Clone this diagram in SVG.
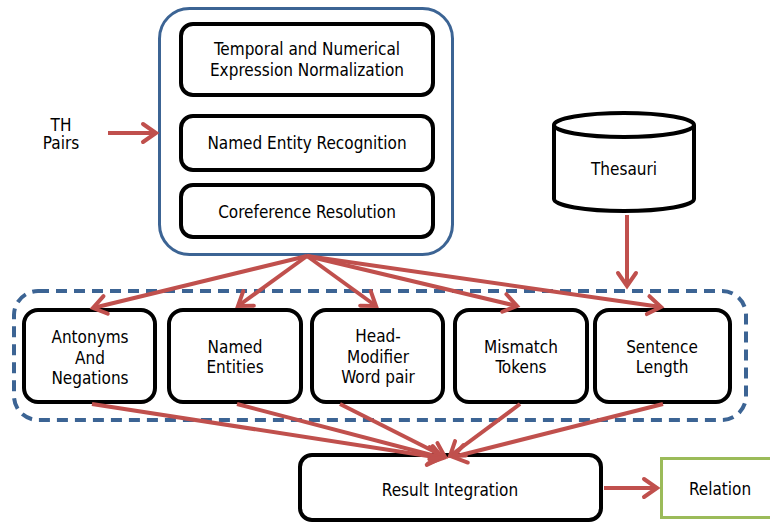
<svg xmlns="http://www.w3.org/2000/svg" width="770" height="523" viewBox="0 0 770 523">
<style>
text{font-family:"DejaVu Sans Condensed","DejaVu Sans",sans-serif;font-stretch:condensed;font-size:17px;fill:#000;text-anchor:middle}
.box{fill:#fff;stroke:#000;stroke-width:4}
.arr{fill:none;stroke:#c0504d;stroke-width:4;marker-end:url(#ah)}
</style>
<defs>
<marker id="ah" markerUnits="userSpaceOnUse" markerWidth="30" markerHeight="30" viewBox="-20 -15 30 30" refX="0" refY="0" orient="auto" overflow="visible">
<path d="M-13,-9 L0,0 L-13,9" fill="none" stroke="#c0504d" stroke-width="4" stroke-linecap="round" stroke-linejoin="miter"/>
</marker>
</defs>
<rect width="770" height="523" fill="#fff"/>

<g id="preprocessing">
<rect x="159.5" y="8.5" width="293" height="246" rx="30" fill="#fff" stroke="#3c6494" stroke-width="3"/>
</g>
<g id="temporal">
<rect class="box" x="181" y="24" width="252" height="71" rx="12"/>
<text x="307" y="55">Temporal and Numerical</text>
<text x="307" y="76">Expression Normalization</text>
</g>
<g id="ner">
<rect class="box" x="181" y="116" width="252" height="54" rx="12"/>
<text x="307" y="149">Named Entity Recognition</text>
</g>
<g id="coref">
<rect class="box" x="181" y="185" width="252" height="52" rx="12"/>
<text x="307" y="218">Coreference Resolution</text>
</g>
<g id="th-pairs">
<text x="61" y="131">TH</text>
<text x="61" y="149">Pairs</text>
</g>
<g id="thesauri">
<path d="M554,125 L554,199 A70,12 0 0 0 694,199 L694,125" fill="#fff" stroke="#000" stroke-width="4"/>
<ellipse cx="624" cy="125" rx="70" ry="12" fill="#fff" stroke="#000" stroke-width="4"/>
<text x="624" y="175">Thesauri</text>
</g>
<g id="features">
<rect x="14" y="291" width="732" height="129" rx="24" fill="none" stroke="#3c6494" stroke-width="4" stroke-dasharray="11 7"/>
</g>
<g id="antonyms">
<rect class="box" x="24" y="310" width="131" height="92" rx="14"/>
<text x="90" y="343">Antonyms</text>
<text x="90" y="364">And</text>
<text x="90" y="384">Negations</text>
</g>
<g id="named-entities">
<rect class="box" x="169" y="310" width="132" height="92" rx="14"/>
<text x="235" y="353">Named</text>
<text x="235" y="373">Entities</text>
</g>
<g id="head-modifier">
<rect class="box" x="312" y="310" width="131" height="92" rx="14"/>
<text x="378" y="342">Head-</text>
<text x="378" y="363">Modifier</text>
<text x="378" y="383">Word pair</text>
</g>
<g id="mismatch">
<rect class="box" x="455" y="310" width="132" height="92" rx="14"/>
<text x="521" y="353">Mismatch</text>
<text x="521" y="373">Tokens</text>
</g>
<g id="sentence-length">
<rect class="box" x="595" y="310" width="135" height="92" rx="14"/>
<text x="662" y="353">Sentence</text>
<text x="662" y="373">Length</text>
</g>
<g id="result">
<rect class="box" x="300" y="455" width="301" height="65" rx="12"/>
<text x="450" y="496">Result Integration</text>
</g>
<g id="relation">
<rect x="661.5" y="458.5" width="115" height="59" fill="#fff" stroke="#9bbb59" stroke-width="3"/>
<text x="720" y="495">Relation</text>
</g>

<g id="connectors">
<line class="arr" x1="108" y1="133" x2="156" y2="133"/>
<line class="arr" x1="627" y1="215" x2="627" y2="286"/>
<line class="arr" x1="307" y1="256" x2="93" y2="308"/>
<line class="arr" x1="307" y1="256" x2="238" y2="306"/>
<line class="arr" x1="307" y1="256" x2="376" y2="306"/>
<line class="arr" x1="307" y1="256" x2="517" y2="306"/>
<line class="arr" x1="307" y1="256" x2="661" y2="307"/>
<line class="arr" x1="92" y1="404" x2="441" y2="458"/>
<line class="arr" x1="237" y1="404" x2="443" y2="458"/>
<line class="arr" x1="340" y1="404" x2="445" y2="457"/>
<line class="arr" x1="520" y1="404" x2="450" y2="456"/>
<line class="arr" x1="663" y1="404" x2="453" y2="457"/>
<line class="arr" x1="604" y1="488" x2="657" y2="488"/>
</g>
</svg>
